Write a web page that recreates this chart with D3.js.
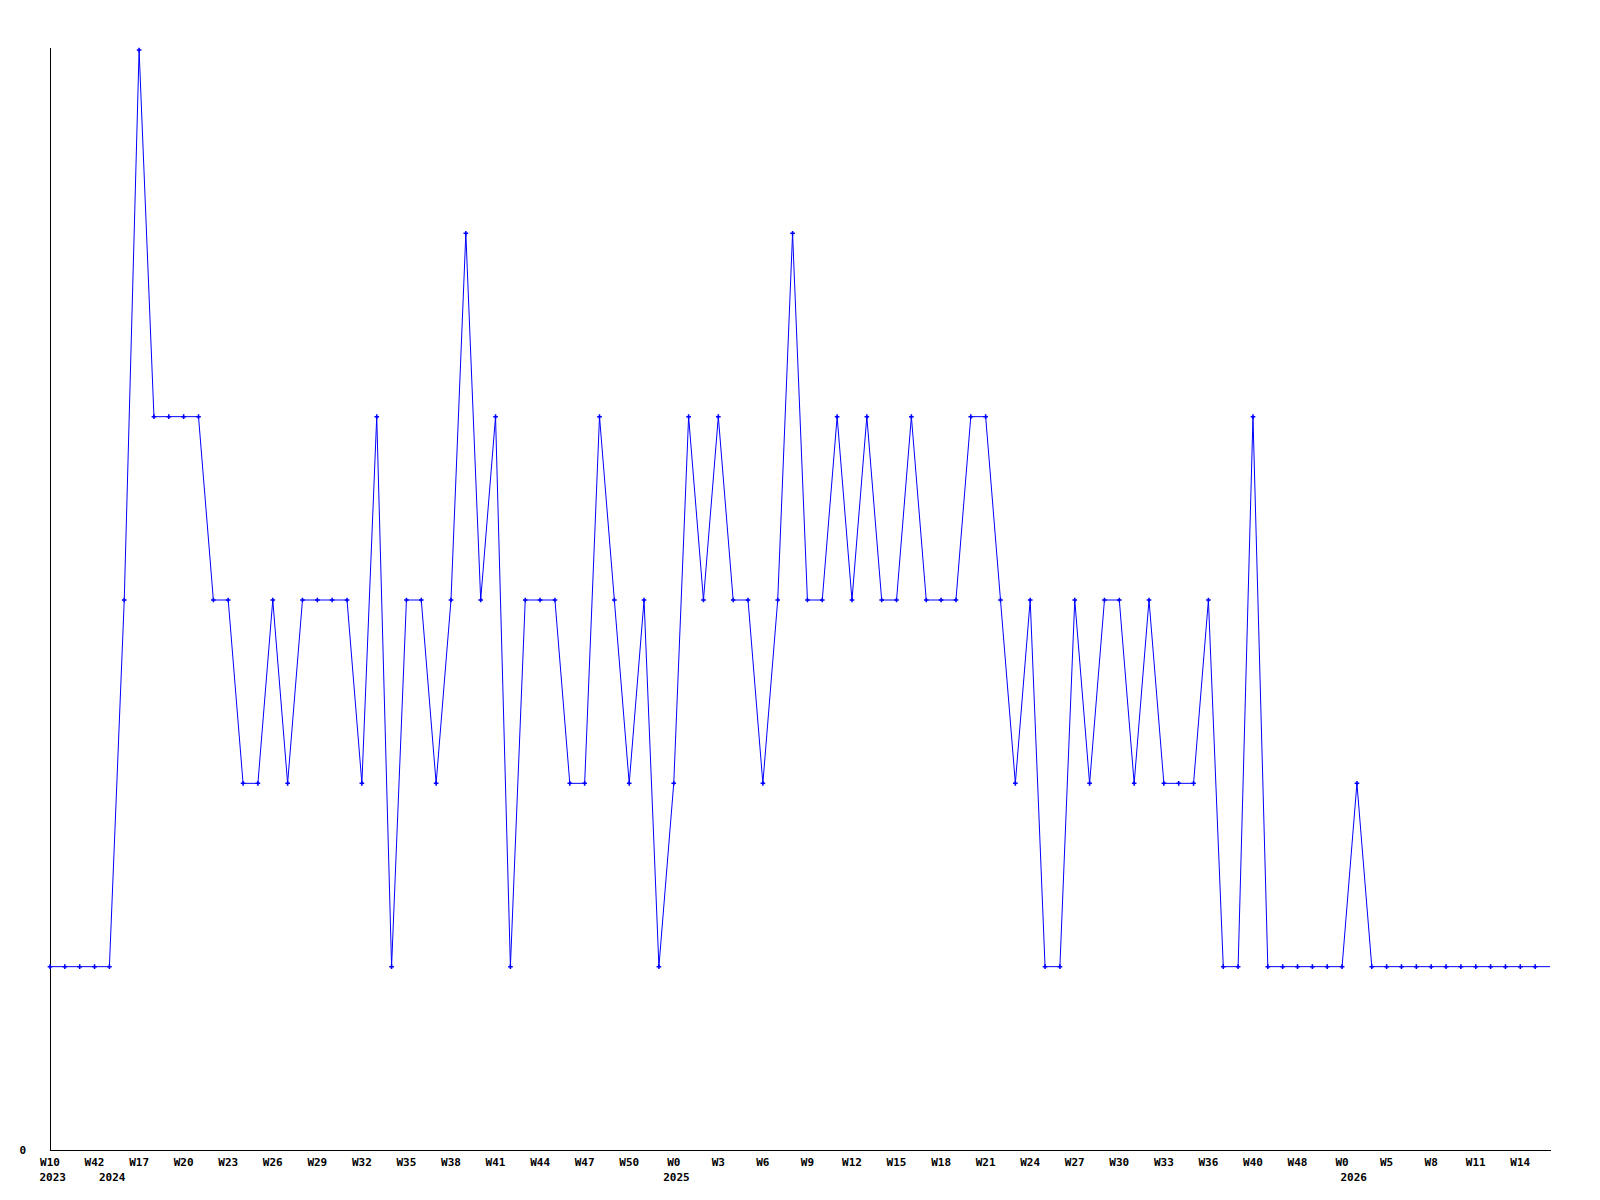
<!DOCTYPE html>
<html>
<head>
<meta charset="utf-8">
<script src="https://cdn.jsdelivr.net/npm/d3@7"></script>
<style>
  html, body { margin: 0; padding: 0; background: #ffffff; }
  svg { display: block; }
  text { font-family: "DejaVu Sans Mono", "Liberation Mono", monospace; font-weight: bold; font-size: 11px; fill: #000; }
</style>
</head>
<body>
<svg id="chart" width="1600" height="1200"></svg>
<script>
// Weekly values, one per point (last point drawn without a marker)
const values = [
  1, 1, 1, 1, 1, 3, 6, 4, 4, 4,
  4, 3, 3, 2, 2, 3, 2, 3, 3, 3,
  3, 2, 4, 1, 3, 3, 2, 3, 5, 3,
  4, 1, 3, 3, 3, 2, 2, 4, 3, 2,
  3, 1, 2, 4, 3, 4, 3, 3, 2, 3,
  5, 3, 3, 4, 3, 4, 3, 3, 4, 3,
  3, 3, 4, 4, 3, 2, 3, 1, 1, 3,
  2, 3, 3, 2, 3, 2, 2, 2, 3, 1,
  1, 4, 1, 1, 1, 1, 1, 1, 2, 1,
  1, 1, 1, 1, 1, 1, 1, 1, 1, 1,
  1, 1
];
// Week tick labels, every third point
const weekLabels = ["W10","W42","W17","W20","W23","W26","W29","W32","W35","W38","W41","W44",
  "W47","W50","W0","W3","W6","W9","W12","W15","W18","W21","W24","W27","W30","W33","W36",
  "W40","W48","W0","W5","W8","W11","W14"];
const weekLabelStep = 3;
// Year labels and the point index they sit under
const yearLabels = ["2023", "2024", "2025", "2026"];
const yearIndex = [0, 4, 42, 87.6];
const yTickValues = [0];

(function () {
const svg = d3.select("#chart");
const mLeft = 50, mRight = 1550, mTop = 50, mBottom = 1150;

const x = d3.scaleLinear().domain([0, values.length - 1]).range([mLeft, mRight]);
const y = d3.scaleLinear().domain([0, 6]).range([mBottom, mTop]);

// axes lines
svg.append("line")
  .attr("x1", mLeft + 0.5).attr("x2", mLeft + 0.5)
  .attr("y1", mTop - 2).attr("y2", mBottom + 0.5)
  .attr("stroke", "#000").attr("stroke-width", 1).attr("shape-rendering", "crispEdges");
svg.append("line")
  .attr("x1", mLeft).attr("x2", mRight + 1)
  .attr("y1", mBottom + 0.5).attr("y2", mBottom + 0.5)
  .attr("stroke", "#000").attr("stroke-width", 1).attr("shape-rendering", "crispEdges");

// y tick label
svg.selectAll("text.ytick").data(yTickValues).enter().append("text")
  .attr("class", "ytick")
  .attr("x", 26).attr("y", d => y(d) + 4)
  .attr("text-anchor", "end")
  .text(d => d);

// week labels
svg.selectAll("text.wk").data(weekLabels).enter().append("text")
  .attr("class", "wk")
  .attr("x", (d, i) => x(i * weekLabelStep))
  .attr("y", 1166)
  .attr("text-anchor", "middle")
  .text(d => d);

// year labels
svg.selectAll("text.yr").data(yearLabels).enter().append("text")
  .attr("class", "yr")
  .attr("x", (d, i) => x(yearIndex[i]) - 10.5)
  .attr("y", 1180.5)
  .attr("text-anchor", "start")
  .text(d => d);

// line
const line = d3.line().x((d, i) => x(i)).y(d => y(d));
svg.append("path")
  .datum(values)
  .attr("d", line)
  .attr("fill", "none")
  .attr("stroke", "#0000ff")
  .attr("stroke-width", 1);

// markers
const sym = d3.symbol().type(d3.symbolCross).size(12);
svg.selectAll("path.mk").data(values.slice(0, values.length - 1)).enter().append("path")
  .attr("class", "mk")
  .attr("transform", (d, i) => `translate(${x(i)},${y(d)})`)
  .attr("d", sym)
  .attr("fill", "#0000ff");
})();
</script>
</body>
</html>
